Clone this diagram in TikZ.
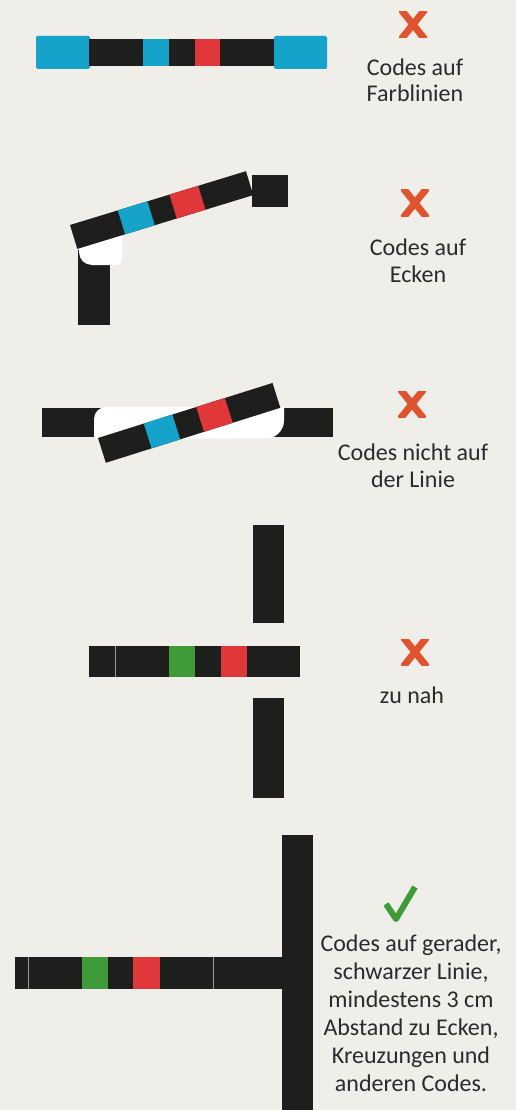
\documentclass[tikz,border=0pt]{standalone}
\usepackage{fontspec}
\setmainfont{Carlito}
\definecolor{bg}{HTML}{EFEEE9}
\definecolor{barc}{HTML}{1E1E1C}
\definecolor{cyanc}{HTML}{15A3C9}
\definecolor{redc}{HTML}{E0383A}
\definecolor{greenc}{HTML}{3F9A3A}
\definecolor{xred}{HTML}{E0532F}
\definecolor{txt}{HTML}{2B2B2B}
\definecolor{seam}{HTML}{9A9A96}
\newcommand\crossmk[2]{%
  \begin{scope}
    \clip (#1-14,#2-13) rectangle (#1+14,#2+13);
    \draw[xred, line width=7pt] (#1-12,#2-15) -- (#1+12,#2+15);
    \draw[xred, line width=7pt] (#1+12,#2-15) -- (#1-12,#2+15);
  \end{scope}}
\begin{document}
\begin{tikzpicture}[x=1pt,y=-1pt,
  lbl/.style={font=\fontsize{24}{26.5}\selectfont, text=txt, align=center, inner sep=0pt, anchor=base},
  lblb/.style={font=\fontsize{24}{28}\selectfont, text=txt, align=center, inner sep=0pt, anchor=base},
  codebar/.style={fill=barc},
  seamline/.style={draw=seam, line width=0.8pt}]
\fill[bg] (0,0) rectangle (516,1110);
\useasboundingbox (0,0) rectangle (516,1110);

% ---------- 1: codes on colour lines
\fill[cyanc, rounded corners=1.5pt] (36,36) rectangle (90,69);
\fill[codebar] (89,39) rectangle (144,66);
\fill[cyanc] (143,39) rectangle (170,66);
\fill[codebar] (169,39) rectangle (196,66);
\fill[redc] (195,39) rectangle (221,66);
\fill[codebar] (220,39) rectangle (275,66);
\fill[cyanc, rounded corners=1.5pt] (274,36) rectangle (327,69);
\crossmk{413}{24.5}
\node[lbl] (t1) at (415,102) {Codes auf\\Farblinien};

% ---------- 2: codes on corners
\fill[codebar] (78,250) rectangle (110,325);
\fill[white] (79,228) -- (79,252) .. controls (79,259.2) and (84.8,265) .. (92,265)
  -- (116,265) .. controls (119.3,265) and (122,262.3) .. (122,259) -- (122,228) -- cycle;
\fill[codebar] (252,175) rectangle (288,207);
\begin{scope}[shift={(70,225)}, rotate=17]
  \fill[codebar] (0,0) rectangle (184,25);
  \fill[cyanc] (50,0) rectangle (81,25);
  \fill[redc] (104,0) rectangle (134,25);
\end{scope}
\crossmk{415}{203}
\node[lbl] (t2) at (418,282) {Codes auf\\Ecken};

% ---------- 3: codes not on the line
\fill[codebar] (42,408) rectangle (333,437);
\fill[white] (94,438.5) -- (94,419) .. controls (94,412.4) and (99.4,407) .. (106,407)
  -- (284,407) -- (284,420.5) .. controls (284,430.4) and (275.9,438.5) .. (266,438.5) -- cycle;
\begin{scope}[shift={(98,438)}, rotate=17.5]
  \fill[codebar] (0,0) rectangle (183,26);
  \fill[cyanc] (48,0) rectangle (78,26);
  \fill[redc] (103,0) rectangle (133,26);
\end{scope}
\crossmk{412}{404}
\node[lbl] (t3) at (413,487) {Codes nicht auf\\der Linie};

% ---------- 4: too close
\fill[codebar] (253,525) rectangle (284,623);
\fill[codebar] (89,646) rectangle (300,677);
\draw[seamline] (115,646) -- (115,677);
\fill[greenc] (169,646) rectangle (195,677);
\fill[redc] (221,646) rectangle (247,677);
\fill[codebar] (253,698) rectangle (284,798);
\crossmk{415}{652}
\node[lbl] (t4) at (412,703) {zu nah};

% ---------- 5: correct
\fill[codebar] (282,835) rectangle (313,1110);
\fill[codebar] (15,957) rectangle (283,989);
\draw[seamline] (28,957) -- (28,989);
\draw[seamline] (213,957) -- (213,989);
\fill[greenc] (82,957) rectangle (108,989);
\fill[redc] (133,957) rectangle (160,989);
\draw[greenc, line width=6pt, line join=round] (386,904) -- (396,919) -- (415,887);
\node[lblb] (t5) at (411,1091) {Codes auf gerader,\\schwarzer Linie,\\mindestens 3 cm\\Abstand zu Ecken,\\Kreuzungen und\\anderen Codes.};
\end{tikzpicture}
\end{document}
